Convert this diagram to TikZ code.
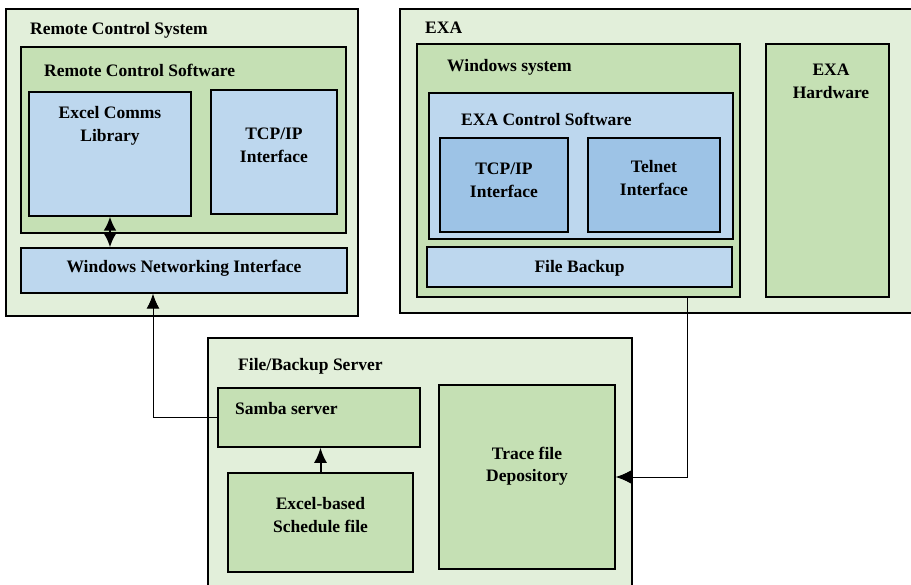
\documentclass[tikz,border=0pt]{standalone}
\usepackage{fontspec}
\setmainfont{Liberation Serif}
\usepackage{xcolor}
\usetikzlibrary{arrows.meta}

\definecolor{paleGreen}{HTML}{E2EFDA}
\definecolor{midGreen}{HTML}{C5E0B4}
\definecolor{paleBlue}{HTML}{BDD7EE}
\definecolor{midBlue}{HTML}{9DC3E6}

\begin{document}
\begin{tikzpicture}[
  x=1pt, y=-1pt,
  font=\bfseries\fontsize{17.5}{23}\selectfont,
  sysbox/.style={draw, line width=1.5pt, fill=paleGreen, inner sep=0pt},
  greenbox/.style={draw, line width=1.5pt, fill=midGreen, inner sep=0pt},
  bluebox/.style={draw, line width=1.5pt, fill=paleBlue, inner sep=0pt},
  deepbox/.style={draw, line width=1.5pt, fill=midBlue, inner sep=0pt},
  heading/.style={anchor=base west, inner sep=0pt},
  caption/.style={anchor=base, align=center, inner sep=0pt},
  link/.style={-{Latex[length=15pt, width=13pt]}, line width=1pt},
  push/.style={-{Latex[length=15pt, width=13pt]}, line width=2pt},
  pushboth/.style={{Latex[length=14pt, width=13pt]}-{Latex[length=14pt, width=13pt]}, line width=2pt}
]
\useasboundingbox (0,0) rectangle (911,585);

% remote control side
\node[sysbox, minimum width=352pt, minimum height=307pt] (rcs) at (182,162.5) {};
\node[greenbox, minimum width=325pt, minimum height=186pt] (rcsw) at (183.5,140) {};
\node[bluebox, minimum width=162pt, minimum height=124pt] (excel) at (110,154) {};
\node[bluebox, minimum width=126pt, minimum height=124pt] (tcpa) at (274,152) {};
\node[bluebox, minimum width=326pt, minimum height=45pt] (wni) at (184,270.5) {};
\node[heading] (rcs-t) at (30,35) {Remote Control System};
\node[heading] (rcsw-t) at (44,77) {Remote Control Software};
\node[caption] (excel-t) at (110,142) {Excel Comms\\Library};
\node[caption] (tcpa-t) at (274,163) {TCP/IP\\Interface};
\node[caption] (wni-t) at (184,273) {Windows Networking Interface};

% EXA side
\node[sysbox, minimum width=515pt, minimum height=304pt] (exa) at (657.5,161) {};
\node[greenbox, minimum width=323pt, minimum height=253pt] (winsys) at (578.5,170.5) {};
\node[bluebox, minimum width=304pt, minimum height=146pt] (exasw) at (581,166) {};
\node[deepbox, minimum width=128pt, minimum height=94pt] (tcpb) at (504,185) {};
\node[deepbox, minimum width=132pt, minimum height=94pt] (telnet) at (654,185) {};
\node[bluebox, minimum width=305pt, minimum height=40pt] (backup) at (579.5,267) {};
\node[greenbox, minimum width=123pt, minimum height=253pt] (hw) at (827.5,170.5) {};
\node[heading] (exa-t) at (425,34) {EXA};
\node[heading] (winsys-t) at (447,72) {Windows system};
\node[heading] (exasw-t) at (461,126) {EXA Control Software};
\node[caption] (tcpb-t) at (504,198) {TCP/IP\\Interface};
\node[caption] (telnet-t) at (654,196) {Telnet\\Interface};
\node[caption] (backup-t) at (579.5,273) {File Backup};
\node[caption] (hw-t) at (831,99) {EXA\\Hardware};

% file server
\node[sysbox, minimum width=424pt, minimum height=252pt] (fbs) at (420,464) {};
\node[greenbox, minimum width=202pt, minimum height=59pt] (samba) at (319,417.5) {};
\node[greenbox, minimum width=185pt, minimum height=99pt] (sched) at (320.5,522.5) {};
\node[greenbox, minimum width=176pt, minimum height=184pt] (trace) at (527,477) {};
\node[heading] (fbs-t) at (238,371) {File/Backup Server};
\node[heading] (samba-t) at (235,414) {Samba server};
\node[caption] (sched-t) at (320.5,532) {Excel-based\\Schedule file};
\node[caption] (trace-t) at (527,482) {Trace file\\Depository};

\draw[pushboth] (excel.south) -- (excel.south |- wni.north);
\draw[link] (samba.west) -| ([xshift=-31pt]wni.south);
\draw[push] (sched.north) -- (sched.north |- samba.south);
\draw[link] ([xshift=108.5pt]winsys.south) |- (trace.east);
\end{tikzpicture}
\end{document}
